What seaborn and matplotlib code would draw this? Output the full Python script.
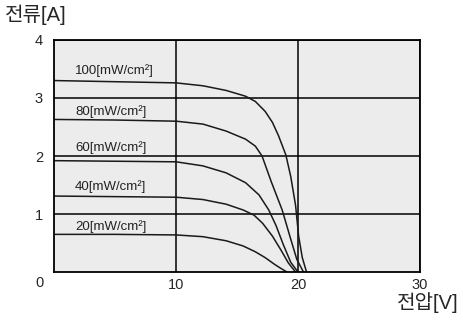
import pandas as pd
import seaborn as sns
import matplotlib.pyplot as plt

# I-V curves
labels = ['100[mW/cm²]', '80[mW/cm²]', '60[mW/cm²]', '40[mW/cm²]', '20[mW/cm²]']
v_100 = [0, 5, 10, 12.2, 14.1, 15.7, 16.5, 17.3, 17.9, 18.4, 19.0, 19.4, 19.8, 20.05, 20.35, 20.7]
i_100 = [3.30, 3.28, 3.26, 3.21, 3.13, 3.03, 2.94, 2.77, 2.58, 2.35, 2.02, 1.65, 1.15, 0.62, 0.25, 0.0]
v_80 = [0, 5, 10, 12.2, 14.1, 15.7, 16.5, 17.05, 17.8, 18.7, 19.4, 19.9, 20.45]
i_80 = [2.63, 2.62, 2.60, 2.55, 2.43, 2.29, 2.17, 2.0, 1.56, 1.07, 0.57, 0.22, 0.0]
v_60 = [0, 5, 10, 12.2, 14.1, 15.7, 16.8, 17.6, 18.2, 18.8, 19.4, 20.0]
i_60 = [1.92, 1.91, 1.90, 1.83, 1.71, 1.54, 1.33, 1.07, 0.80, 0.47, 0.17, 0.0]
v_40 = [0, 5, 10, 12.2, 14.1, 15.5, 16.4, 17.1, 17.9, 18.6, 19.2, 19.8]
i_40 = [1.31, 1.30, 1.29, 1.25, 1.17, 1.07, 0.98, 0.84, 0.62, 0.38, 0.16, 0.0]
v_20 = [0, 5, 10, 12.2, 14.1, 15.5, 16.5, 17.3, 18.1, 18.7, 19.1]
i_20 = [0.65, 0.65, 0.64, 0.61, 0.54, 0.45, 0.35, 0.25, 0.13, 0.05, 0.0]
label_y = [3.48, 2.76, 2.14, 1.47, 0.78]

volts = [v_100, v_80, v_60, v_40, v_20]
amps = [i_100, i_80, i_60, i_40, i_20]
df = pd.concat([pd.DataFrame({'V': v, 'I': i, 'P': lab})
                for v, i, lab in zip(volts, amps, labels)])

sns.set_style('white')
plt.rcParams['font.family'] = ['Liberation Sans', 'Noto Sans CJK KR', 'DejaVu Sans']

fig = plt.figure(figsize=(4.63, 3.22), dpi=100)
ax = fig.add_axes([0.117, 0.155, 0.790, 0.721])
ax.set_facecolor('#ececec')

sns.lineplot(data=df, x='V', y='I', units='P', estimator=None, sort=False,
             color='#1a1a1a', linewidth=1.1, ax=ax, legend=False)

for lab, y in zip(labels, label_y):
    ax.text(1.7, y, lab, fontsize=9.5, color='#222222', va='center', ha='left')

ax.set_xlim(0, 30)
ax.set_ylim(0, 4)
ax.set_xticks([10, 20, 30])
ax.set_yticks([1, 2, 3, 4])
ax.tick_params(axis='x', length=0, labelsize=10.5, pad=4)
ax.tick_params(axis='y', length=0, labelsize=10.5, pad=8)
ax.grid(True, color='black', linewidth=1.1)
for s in ax.spines.values():
    s.set_color('black')
    s.set_linewidth(1.3)
ax.set_xlabel('')
ax.set_ylabel('')

fig.text(40 / 463, 1 - 283 / 322, '0', fontsize=10.5, ha='center', va='center')
fig.text(5 / 463, 1 - 15 / 322, '전류[A]', fontsize=14.5, ha='left', va='center')
fig.text(459 / 463, 1 - 303 / 322, '전압[V]', fontsize=14.5, ha='right', va='center')

fig.savefig('out.png', dpi=100)
